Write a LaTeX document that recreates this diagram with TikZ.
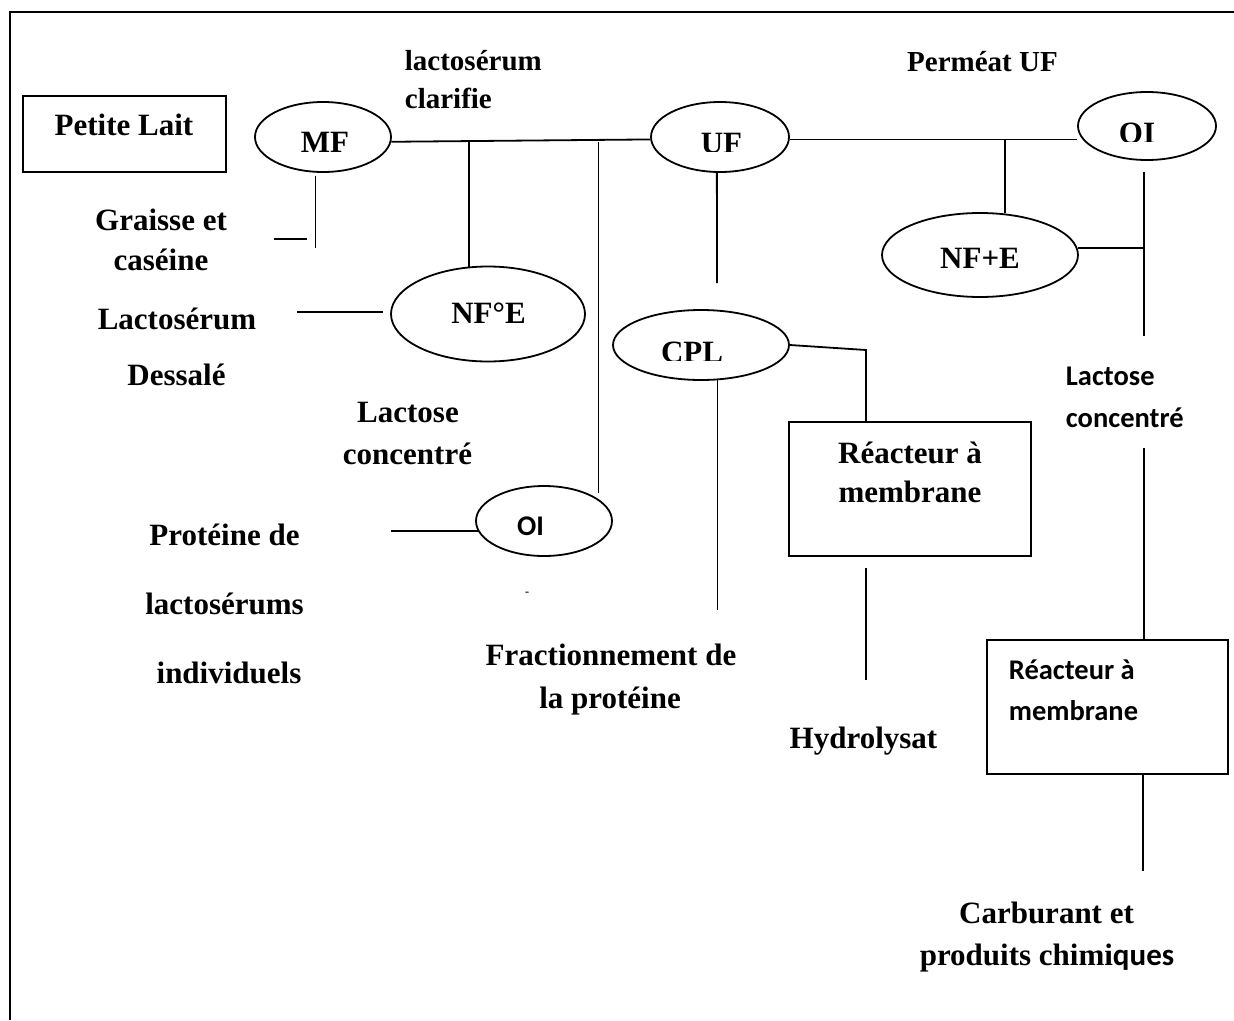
\documentclass[tikz,border=0pt]{standalone}
\usepackage{fontspec}
\setmainfont{Liberation Serif}
\newfontfamily\calib{Carlito}
\usetikzlibrary{shapes.geometric}
\begin{document}
\begin{tikzpicture}[x=1pt,y=-1pt,line width=1.8pt,
  oval/.style={draw, ellipse, inner sep=0pt},
  framebox/.style={draw, rectangle, inner sep=0pt},
  lbl/.style={inner sep=0pt, anchor=base, font=\fontsize{31}{37}\selectfont\bfseries},
  lblsm/.style={inner sep=0pt, anchor=base, font=\fontsize{29}{35}\selectfont\bfseries},
  lbls/.style={inner sep=0pt, anchor=base, font=\fontsize{28.5}{34}\selectfont\calib\bfseries}]
\useasboundingbox (0,0) rectangle (1234,1020);

% page frame (left and top edges)
\draw[line width=2.2pt] (10,1020) -- (10,12) -- (1234,12);

% process units
\node[oval, minimum width=136, minimum height=70] (MF) at (323,137) {};
\node[oval, minimum width=138, minimum height=70] (UF) at (720,137) {};
\node[oval, minimum width=138, minimum height=68] (OIa) at (1147,126) {};
\node[oval, minimum width=196, minimum height=84] (NFE) at (980,255) {};
\node[oval, minimum width=194, minimum height=95] (NFdE) at (488,314) {};
\node[oval, minimum width=136, minimum height=70] (OIb) at (544,521) {};
\node[oval, minimum width=176, minimum height=70] (CPL) at (701,345) {};
\node[framebox, minimum width=203, minimum height=76] (PL) at (124.5,134) {};
\node[framebox, minimum width=242, minimum height=134] (RM1) at (910,489) {};
\node[framebox, minimum width=241, minimum height=134] (RM2) at (1107.5,707) {};

% unit names (lower edge cut off as in the source layout)
\begin{scope}\clip (280,100) rectangle (370,151);
  \node[lbl] (tMF) at (325,152.5) {MF};\end{scope}
\begin{scope}\clip (680,100) rectangle (760,151.5);
  \node[lbl] (tUF) at (721.5,153.5) {UF};\end{scope}
\begin{scope}\clip (1100,95) rectangle (1180,141.5);
  \node[lbl] (tOIa) at (1137,143.5) {OI};\end{scope}
\begin{scope}\clip (640,320) rectangle (760,360);
  \node[lbl] (tCPL) at (692,362.5) {CPL};\end{scope}

% labels
\node[lbl] (tPL) at (124,135) {Petite Lait};
\node[lblsm, anchor=base west] (tLC1) at (404,70) {lactosérum};
\node[lblsm, anchor=base west] (tLC2) at (404,108) {clarifie};
\node[lbl] (tGR1) at (161,230) {Graisse et};
\node[lbl] (tGR2) at (161,270) {caséine};
\node[lblsm] (tPERM) at (982.5,71) {Perméat UF};
\node[lbl] (tNFE) at (980,268) {NF+E};
\node[lbl] (tLD1) at (177,329) {Lactosérum};
\node[lbl] (tLD2) at (176.5,385) {Dessalé};
\node[lbl] (tNFdE) at (488.5,323) {NF°E};
\node[lbl] (tLA1) at (408,422) {Lactose};
\node[lbl] (tLA2) at (407.5,464) {concentré};
\node[lbl] (tPR1) at (224.5,545) {Protéine de};
\node[lbl] (tPR2) at (224.5,614) {lactosérums};
\node[lbl] (tPR3) at (229,683) {individuels};
\node[lbl] (tFR1) at (611,665) {Fractionnement de};
\node[lbl] (tFR2) at (610,708) {la protéine};
\node[lbls] (tOIb) at (530.5,535) {OI};
\node[inner sep=0pt, anchor=base, font=\fontsize{12}{14}\selectfont\bfseries] (tDash) at (527,595) {-};
\node[lbl] (tRM1a) at (910,463) {Réacteur à};
\node[lbl] (tRM1b) at (910,502) {membrane};
\node[lbls, anchor=base west] (tLB1) at (1065,385) {Lactose};
\node[lbls, anchor=base west] (tLB2) at (1065,427) {concentré};
\node[lbls, anchor=base west] (tRM2a) at (1008,679) {Réacteur à};
\node[lbls, anchor=base west] (tRM2b) at (1008,720) {membrane};
\node[lbl] (tHY) at (863.5,748.5) {Hydrolysat};
\node[lbl] (tCA1) at (1046.5,923) {Carburant et};
\node[lbl] (tCA2) at (1047,965) {produits chimi{\calib ques}};

% free line ends
\coordinate (grEnd) at (316,248);
\coordinate (grA) at (274,239);
\coordinate (grB) at (307,239);
\coordinate (dsA) at (297,312);
\coordinate (dsB) at (383,312);
\coordinate (prA) at (391,531);
\coordinate (ufEnd) at (717,283);
\coordinate (fracEnd) at (717,610);
\coordinate (cplBend) at (866,350);
\coordinate (hyA) at (866,568);
\coordinate (hyB) at (866,680);
\coordinate (oiEnd) at (1144,336);
\coordinate (lcEnd) at (1144,448);
\coordinate (cbEnd) at (1143,871);

% main line
\draw (MF.-4) -- (UF.182.5);
\draw (UF.-2.5) -- (UF.-2.5 -| OIa.west);

% branches
\draw[shorten <=3pt] (MF.258.6) -- (MF.258.6 |- grEnd);
\draw (grA) -- (grB);
\draw (NFdE.112) -- (NFdE.112 |- MF.-4);
\draw (dsA) -- (dsB);
\draw[shorten <=6pt] (OIb.22.4) -- (OIb.22.4 |- MF.-4);
\draw (prA) -- (prA -| OIb.-171.3);
\draw (UF.265) -- (ufEnd);
\draw (CPL.-65) -- (CPL.-65 |- fracEnd);
\draw (CPL.east) -- (cplBend) -- (cplBend |- RM1.north);
\draw (hyA) -- (hyB);
\draw (NFE.59.5) -- (NFE.59.5 |- UF.-2.5);
\draw (NFE.4.75) -- (NFE.4.75 -| oiEnd);
\draw[shorten <=11pt] (OIa.265) -- (OIa.265 |- oiEnd);
\draw (lcEnd) -- (lcEnd |- RM2.north);
\draw (cbEnd |- RM2.south) -- (cbEnd);
\end{tikzpicture}
\end{document}
